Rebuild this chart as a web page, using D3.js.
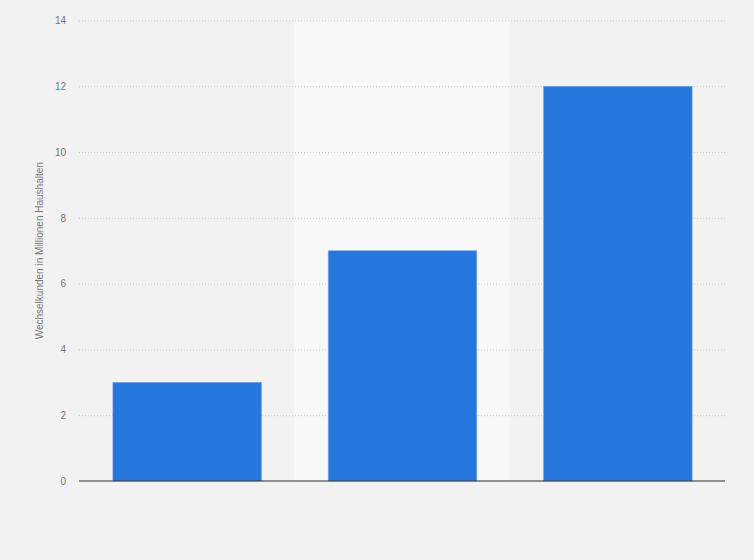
<!DOCTYPE html>
<html>
<head>
<meta charset="utf-8">
<script src="https://cdn.jsdelivr.net/npm/d3@7"></script>
<style>
  body { margin: 0; background: #f2f2f2; }
  svg { display: block; font-family: "Liberation Sans", Arial, sans-serif; }
</style>
</head>
<body>
<svg width="754" height="560"></svg>
<script>
// data (categories have no visible labels)
const categories = ["A", "B", "C"];
const values = [3, 7, 12];
const yTicks = [0, 2, 4, 6, 8, 10, 12, 14];
const yTitle = "Wechselkunden in Millionen Haushalten";

const plot = {left: 79, right: 725, top: 20.5, bottom: 481};

const svg = d3.select("svg");

svg.append("rect")
    .attr("width", 754).attr("height", 560)
    .attr("fill", "#f2f2f2");

const x = d3.scaleBand()
    .domain(categories)
    .range([plot.left, plot.right])
    .paddingInner(0.31)
    .paddingOuter(0.155);

const y = d3.scaleLinear()
    .domain([0, 14])
    .range([plot.bottom, plot.top]);

// lighter band behind the middle column
const step = x.step();
svg.append("rect")
    .attr("x", plot.left + step)
    .attr("y", plot.top)
    .attr("width", step)
    .attr("height", plot.bottom - plot.top)
    .attr("fill", "#f8f8f8");

// gridlines + tick labels
const yAxis = d3.axisLeft(y)
    .tickValues(yTicks)
    .tickSize(-(plot.right - plot.left))
    .tickPadding(13)
    .tickFormat(d3.format("d"));

const gy = svg.append("g")
    .attr("transform", "translate(" + plot.left + ",0)")
    .call(yAxis);
gy.select(".domain").remove();
gy.selectAll(".tick line")
    .attr("stroke", "#c8c8c8")
    .attr("stroke-dasharray", "1,2")
    .filter(d => d === 0).remove();
gy.selectAll(".tick text")
    .attr("fill", "#777")
    .style("font-size", "10px");

// bars
svg.selectAll("rect.bar")
    .data(values)
    .enter()
    .append("rect")
        .attr("class", "bar")
        .attr("x", (d, i) => x(categories[i]) + 0.5)
        .attr("y", d => y(d))
        .attr("width", x.bandwidth())
        .attr("height", d => y(0) - y(d))
        .attr("fill", "#2776db")
        .attr("stroke", "#7aa9ea")
        .attr("stroke-width", 0.6);

// baseline
svg.append("line")
    .attr("x1", plot.left).attr("x2", plot.right)
    .attr("y1", y(0)).attr("y2", y(0))
    .attr("stroke", "#2b2b2b")
    .attr("stroke-width", 1.2);

// y axis title
svg.append("text")
    .attr("transform", "translate(43," + ((plot.top + plot.bottom) / 2) + ")rotate(-90)")
    .attr("text-anchor", "middle")
    .attr("fill", "#777")
    .style("font-size", "10px")
    .text(yTitle);
</script>
</body>
</html>
